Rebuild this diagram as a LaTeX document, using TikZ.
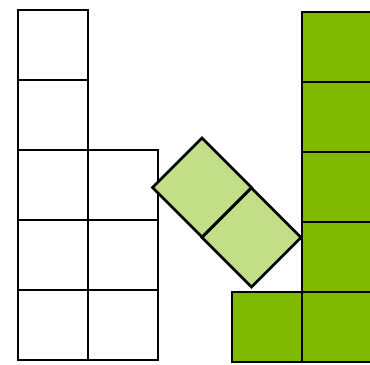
\documentclass[tikz,border=0pt]{standalone}
\usetikzlibrary{positioning}
\definecolor{tileGreen}{HTML}{7FBA00}
\definecolor{tileLight}{HTML}{C2DE86}

\begin{document}
\begin{tikzpicture}[x=0.02cm, y=-0.02cm]
    \useasboundingbox (0,0) rectangle (370,365);
    \clip (0,0) rectangle (370,365);
    % white tiles, left
    \foreach \r [count=\i] in {45,115,185,255,325}
      \node[rectangle, draw=black, line width=1.5pt, fill=white,
        minimum size=1.4cm, inner sep=0pt] (a\i) at (53,\r) {};
    \foreach \r [count=\i] in {185,255,325}
      \node[rectangle, draw=black, line width=1.5pt, fill=white,
        minimum size=1.4cm, inner sep=0pt] (b\i) at (123,\r) {};
    % green tiles, right
    \foreach \r [count=\i] in {47,117,187,257,327}
      \node[rectangle, draw=black, line width=1.5pt, fill=tileGreen,
        minimum size=1.4cm, inner sep=0pt] (g\i) at (337,\r) {};
    \node[rectangle, draw=black, line width=1.5pt, fill=tileGreen,
      minimum size=1.4cm, inner sep=0pt] (g6) at (267,327) {};
    % tilted domino
    \node[rectangle, draw=black, line width=1.5pt, fill=tileLight,
      minimum size=1.4cm, inner sep=0pt, rotate=45] (d1) at (202,187.5) {};
    \node[rectangle, draw=black, line width=1.5pt, fill=tileLight,
      minimum size=1.4cm, inner sep=0pt, rotate=45] (d2) at (251.5,237.5) {};
  \end{tikzpicture}
\end{document}
